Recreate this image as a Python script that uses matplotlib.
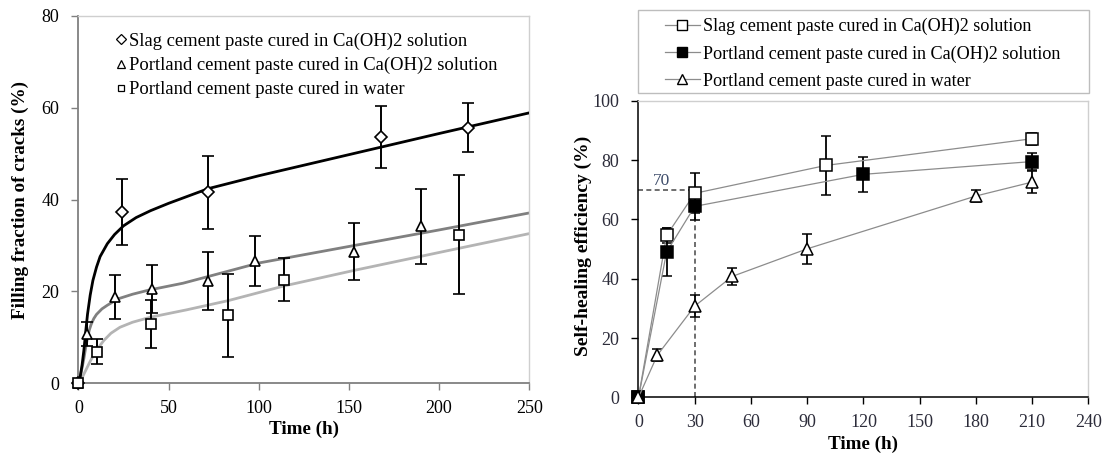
import matplotlib
matplotlib.use("Agg")
import matplotlib.pyplot as plt
from matplotlib.lines import Line2D
from matplotlib.patches import Rectangle

plt.rcParams["font.family"] = ["Liberation Serif", "DejaVu Serif"]

# ---- left panel: filling fraction of cracks ----
slag_t = [0, 24, 72, 168, 216]
slag_y = [0, 37.3, 41.6, 53.7, 55.7]
slag_e = [0, 7.2, 8.0, 6.8, 5.3]

pca_t = [0, 5, 20, 41, 72, 98, 153, 190]
pca_y = [0, 10.8, 18.8, 20.5, 22.3, 26.6, 28.7, 34.2]
pca_e = [0, 2.6, 4.7, 5.2, 6.3, 5.5, 6.2, 8.2]

pw_t = [0, 10, 40, 83, 114, 211]
pw_y = [0, 6.9, 12.9, 14.8, 22.6, 32.4]
pw_e = [0, 2.7, 5.3, 9.0, 4.6, 13.0]

# trend curves
fit_slag_t = [0, 1, 2, 3, 4, 5, 6.5, 8, 10, 12, 16, 20, 25, 32, 40, 50, 72, 100, 150, 200, 250]
fit_slag_y = [0, 1.5, 4.0, 7.2, 11.2, 15.0, 19.2, 22.4, 25.3, 27.6, 30.4, 32.4, 34.3, 36.1, 37.6, 39.2, 42.4, 45.2, 49.8, 54.4, 58.9]

fit_pca_t = [0, 1, 2, 3, 4, 5, 6, 7, 8.5, 10, 13, 16, 22, 30, 39, 58, 80, 100, 150, 200, 250]
fit_pca_y = [0, 1.6, 3.4, 5.4, 7.8, 9.9, 11.6, 12.8, 14.1, 15.0, 16.2, 17.0, 18.4, 19.4, 20.3, 21.8, 24.1, 26.2, 29.8, 33.4, 37.1]

fit_pw_t = [0, 2, 4, 6, 8, 10, 14, 18, 23, 30, 40, 60, 83, 114, 153, 211, 250]
fit_pw_y = [0, 1.2, 2.8, 4.4, 5.9, 7.2, 9.3, 10.9, 12.2, 13.3, 14.4, 16.0, 18.0, 21.2, 24.6, 29.4, 32.6]

# ---- right panel: self-healing efficiency ----
sh_slag_t = [0, 15, 30, 100, 210]
sh_slag_y = [0, 54.6, 68.8, 78.2, 87.2]
sh_slag_e = [0, 2.5, 6.7, 10.0, 2.0]

sh_pca_t = [0, 15, 30, 120, 210]
sh_pca_y = [0, 49.0, 64.4, 75.2, 79.5]
sh_pca_e = [0, 8.0, 4.5, 6.0, 2.8]

sh_pw_t = [0, 10, 30, 50, 90, 180, 210]
sh_pw_y = [0, 14.2, 30.8, 40.8, 50.1, 67.9, 72.6]
sh_pw_e = [0, 2.0, 3.8, 3.0, 5.0, 2.0, 3.7]

ref_t = 30
ref_y = 70

labels = ["Slag cement paste cured in Ca(OH)2 solution",
          "Portland cement paste cured in Ca(OH)2 solution",
          "Portland cement paste cured in water"]

fig = plt.figure(figsize=(11.10, 4.57), dpi=100)
ax1 = fig.add_axes([0.0707, 0.1613, 0.4061, 0.8037])
ax2 = fig.add_axes([0.5752, 0.1302, 0.4054, 0.6494])

# left panel
ax1.plot(fit_pw_t, fit_pw_y, color="#b4b4b4", lw=2.0, zorder=2)
ax1.plot(fit_pca_t, fit_pca_y, color="#808080", lw=2.0, zorder=2)
ax1.plot(fit_slag_t, fit_slag_y, color="black", lw=2.0, zorder=3)

ebkw = dict(ls="none", ecolor="black", elinewidth=1.4, capsize=4, capthick=1.4,
            mfc="white", mec="black", mew=1.2, clip_on=False, zorder=4)
ax1.errorbar(slag_t, slag_y, yerr=slag_e, marker="D", ms=6.5, **ebkw)
ax1.errorbar(pca_t, pca_y, yerr=pca_e, marker="^", ms=7, **ebkw)
ax1.errorbar(pw_t, pw_y, yerr=pw_e, marker="s", ms=6.5, **ebkw)

ax1.set_xlim(0, 250)
ax1.set_ylim(0, 80)
ax1.set_xticks([0, 50, 100, 150, 200, 250])
ax1.set_yticks([0, 20, 40, 60, 80])
ax1.tick_params(direction="out", length=5, width=1, color="#808080", labelsize=13)
ax1.tick_params(axis="x", pad=7)
ax1.tick_params(axis="y", pad=9)
for s in ["left", "bottom"]:
    ax1.spines[s].set_color("#808080")
    ax1.spines[s].set_linewidth(1.3)
for s in ["top", "right"]:
    ax1.spines[s].set_color("#cfcfcf")
    ax1.spines[s].set_linewidth(1.0)
ax1.set_xlabel("Time (h)", fontsize=13.8, fontweight="bold")
ax1.set_ylabel("Filling fraction of cracks (%)", fontsize=13.8, fontweight="bold")
ax1.xaxis.set_label_coords(0.5, -0.101)
ax1.yaxis.set_label_coords(-0.109, 0.5)

h1 = [Line2D([], [], ls="none", marker="D", ms=5, mfc="white", mec="black", mew=0.9),
      Line2D([], [], ls="none", marker="^", ms=5.5, mfc="white", mec="black", mew=0.9),
      Line2D([], [], ls="none", marker="s", ms=5, mfc="white", mec="black", mew=0.9)]
ax1.legend(h1, labels, loc="upper left", bbox_to_anchor=(0.082, 0.955), frameon=False,
           fontsize=13.4, handlelength=0.6, handletextpad=0.13, labelspacing=0.38,
           borderpad=0, borderaxespad=0)

# right panel
ax2.plot([0, ref_t], [ref_y, ref_y], color="#555555", ls=(0, (3, 2)), lw=1.2, zorder=1)
ax2.plot([ref_t, ref_t], [0, ref_y], color="#555555", ls=(0, (3, 2)), lw=1.2, zorder=1)
ax2.text(12.4, 73, "70", fontsize=12.5, color="#3d4c6a", ha="center", va="center")

ekw = dict(color="#8c8c8c", lw=0.9, ecolor="black", elinewidth=1.3, capsize=3.5,
           capthick=1.3, mec="black", mew=1.1, ms=8, clip_on=False, zorder=4)
ax2.errorbar(sh_slag_t, sh_slag_y, yerr=sh_slag_e, marker="s", mfc="white", **ekw)
ax2.errorbar(sh_pca_t, sh_pca_y, yerr=sh_pca_e, marker="s", mfc="black", **ekw)
ax2.errorbar(sh_pw_t, sh_pw_y, yerr=sh_pw_e, marker="^", mfc="white", **ekw)

ax2.set_xlim(0, 240)
ax2.set_ylim(0, 100)
ax2.set_xticks(range(0, 241, 30))
ax2.set_yticks(range(0, 101, 20))
ax2.tick_params(direction="out", length=5, width=1, color="black", labelsize=13,
                labelcolor="#2c2c3a")
ax2.tick_params(axis="x", pad=7)
ax2.tick_params(axis="y", pad=9)
for s in ["left", "bottom"]:
    ax2.spines[s].set_color("black")
    ax2.spines[s].set_linewidth(1.1)
for s in ["top", "right"]:
    ax2.spines[s].set_color("#cfcfcf")
    ax2.spines[s].set_linewidth(1.0)
ax2.set_xlabel("Time (h)", fontsize=13.8, fontweight="bold")
ax2.set_ylabel("Self-healing efficiency (%)", fontsize=14, fontweight="bold")
ax2.xaxis.set_label_coords(0.5, -0.13)
ax2.yaxis.set_label_coords(-0.104, 0.51)

# legend box above the right panel
ax2.add_patch(Rectangle((-0.001, 1.026), 1.002, 0.28, transform=ax2.transAxes,
                        fill=False, edgecolor="#bdbdbd", lw=1.0, clip_on=False))
h2 = [Line2D([], [], color="#8c8c8c", lw=0.9, marker="s", ms=7, mfc="white", mec="black", mew=1.0),
      Line2D([], [], color="#8c8c8c", lw=0.9, marker="s", ms=7, mfc="black", mec="black", mew=1.0),
      Line2D([], [], color="#8c8c8c", lw=0.9, marker="^", ms=7, mfc="white", mec="black", mew=1.0)]
ax2.legend(h2, labels, loc="upper left", bbox_to_anchor=(0.059, 1.279), frameon=False,
           fontsize=13.1, handlelength=1.92, handletextpad=0.17, labelspacing=0.55,
           borderpad=0, borderaxespad=0)

fig.savefig("out.png", dpi=100)
